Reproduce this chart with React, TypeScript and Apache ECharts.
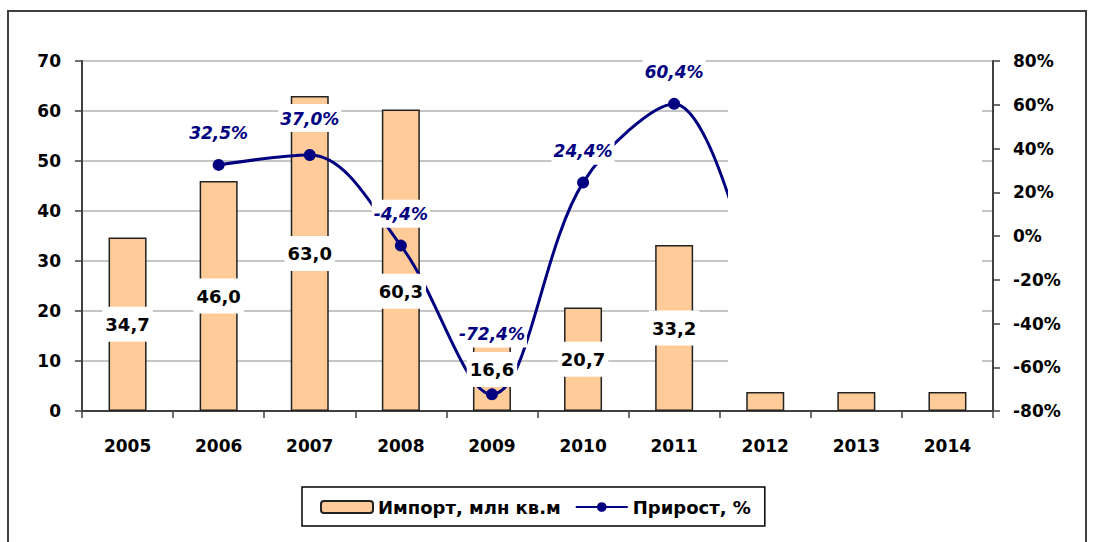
import React, { useEffect, useRef } from "react";
import * as echarts from "echarts";

const years = ["2005", "2006", "2007", "2008", "2009", "2010", "2011", "2012", "2013", "2014"];
const importVals = [34.7, 46.0, 63.0, 60.3, 16.6, 20.7, 33.2, 3.8, 3.8, 3.8];
const importLabelShown = [true, true, true, true, true, true, true, false, false, false];
const growthVals: (number | string)[] = ["-", 32.5, 37.0, -4.4, -72.4, 24.4, 60.4, -45, "-", "-"];
const growthLabelShown = [false, true, true, true, true, true, true, false, false, false];
const leftTicks = { min: 0, max: 70, interval: 10 };
const rightTicks = { min: -80, max: 80, interval: 20 };
const importName = "Импорт, млн кв.м";
const growthName = "Прирост, %";

const FONT = "DejaVu Sans";
const NAVY = "#000080";

const fmt = (v: number) => v.toFixed(1).replace(".", ",");

export default function App() {
  const ref = useRef<HTMLDivElement>(null);
  useEffect(() => {
    if (!ref.current) return;
    const chart = echarts.init(ref.current, null, { renderer: "svg" });
    const axisLabel = { fontFamily: FONT, fontWeight: "bold" as const, fontSize: 17, color: "#000" };
    chart.setOption({
      animation: false,
      backgroundColor: "#fff",
      textStyle: { fontFamily: FONT },
      grid: { left: 82, right: 100, top: 61, bottom: 131 },
      legend: {
        left: 302,
        top: 487,
        data: [importName, growthName],
        borderColor: "#000",
        borderWidth: 1.5,
        padding: [11, 14, 10, 18],
        itemWidth: 52,
        itemHeight: 12,
        itemGap: 14,
        textStyle: { fontFamily: FONT, fontWeight: "bold", fontSize: 18, color: "#000" },
      },
      xAxis: {
        type: "category",
        data: years,
        axisLine: { lineStyle: { color: "#404040", width: 2 } },
        axisTick: { show: true, length: 7, lineStyle: { color: "#404040", width: 1.5 } },
        axisLabel: { ...axisLabel, margin: 26 },
      },
      yAxis: [
        {
          type: "value",
          ...leftTicks,
          axisLine: { show: true, lineStyle: { color: "#404040", width: 2 } },
          axisTick: { show: true, length: 7, lineStyle: { color: "#404040", width: 1.5 } },
          axisLabel: { ...axisLabel, margin: 21 },
          splitLine: { lineStyle: { color: "#b3b3b3", width: 1.5 } },
        },
        {
          type: "value",
          ...rightTicks,
          position: "right",
          axisLine: { show: true, lineStyle: { color: "#404040", width: 2 } },
          axisTick: { show: true, length: 7, lineStyle: { color: "#404040", width: 1.5 } },
          axisLabel: { ...axisLabel, margin: 20, formatter: (v: number) => `${v}%` },
          splitLine: { show: false },
        },
      ],
      series: [
        {
          name: importName,
          type: "bar",
          z: 2,
          barWidth: 38,
          data: importVals,
          itemStyle: { color: "#FFCC99", borderColor: "#222", borderWidth: 1.5 },
        },
        {
          name: "labels",
          type: "bar",
          z: 5,
          barWidth: 38,
          barGap: "-100%",
          data: importVals.map((v, i) => ({
            value: v,
            label: { show: importLabelShown[i], offset: i === 3 ? [0, 31] : [0, 0] },
          })),
          itemStyle: { color: "transparent", borderWidth: 0 },
          label: {
            position: "inside",
            formatter: (p: any) => fmt(p.value),
            fontFamily: FONT,
            fontWeight: "bold",
            fontSize: 18,
            color: "#000",
            backgroundColor: "#fff",
            padding: [9, 3, 8, 3],
          },
          silent: true,
        },
        {
          name: growthName,
          type: "line",
          yAxisIndex: 1,
          z: 3,
          smooth: 0.35,
          symbol: "circle",
          symbolSize: 12,
          connectNulls: false,
          data: growthVals.map((v, i) => ({
            value: v,
            label: { show: growthLabelShown[i], distance: i === 4 ? 41 : i === 2 ? 17 : 12 },
          })),
          lineStyle: { color: NAVY, width: 3 },
          itemStyle: { color: NAVY },
          label: {
            position: "top",
            formatter: (p: any) => `${fmt(p.value)}%`,
            fontFamily: FONT,
            fontWeight: "bold",
            fontStyle: "italic",
            fontSize: 17,
            color: NAVY,
            backgroundColor: "#fff",
            padding: [6, 2, 5, 2],
          },
        },
      ],
      graphic: [
        {
          type: "rect",
          z: 100,
          shape: { x: 728, y: 65, width: 254, height: 323 },
          style: { fill: "#fff" },
        },
        {
          type: "rect",
          z: 100,
          shape: { x: 8, y: 11, width: 1078, height: 560 },
          style: { fill: "none", stroke: "#404040", lineWidth: 2 },
        },
      ],
    });
    return () => chart.dispose();
  }, []);
  return (
    <div
      ref={ref}
      style={{ position: "fixed", left: 0, top: 0, width: 1093, height: 542, background: "#fff" }}
    />
  );
}
